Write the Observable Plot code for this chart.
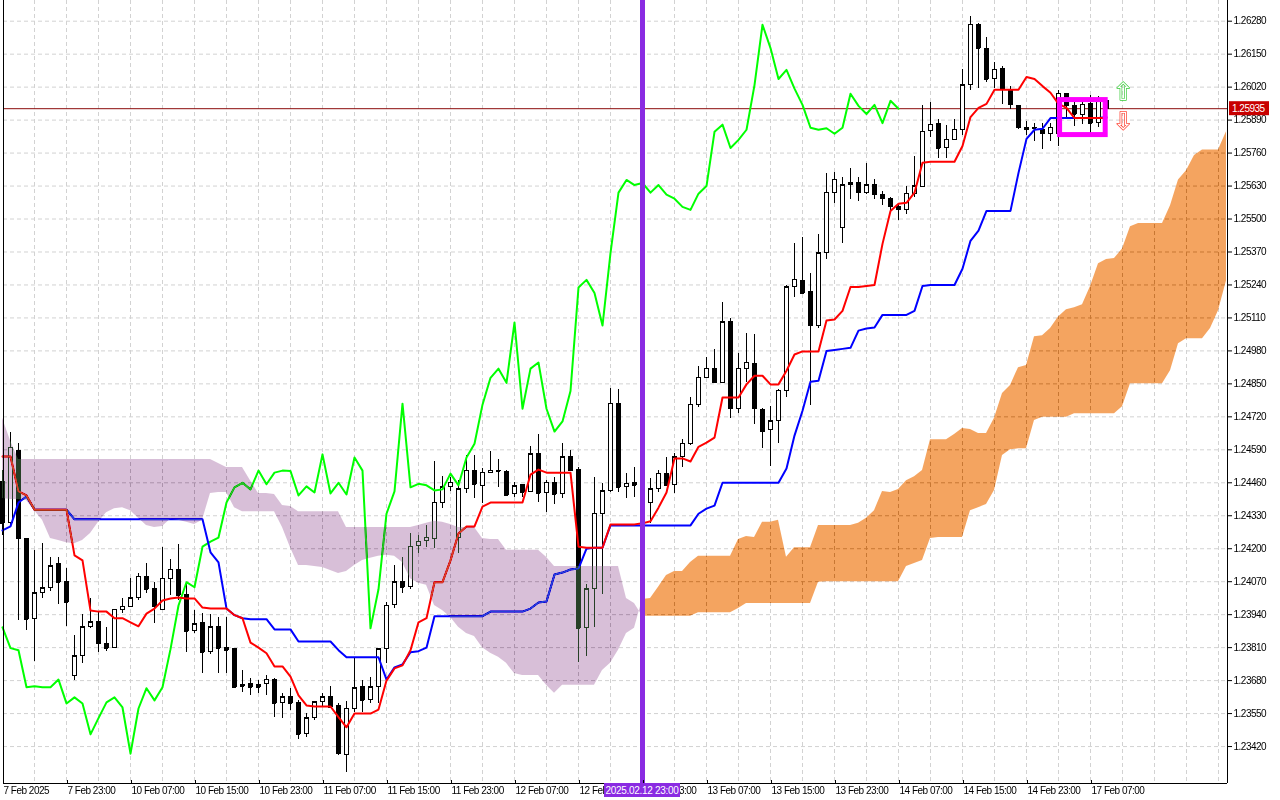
<!DOCTYPE html>
<html><head><meta charset="utf-8">
<script src="https://cdn.jsdelivr.net/npm/d3@7"></script>
<script src="https://cdn.jsdelivr.net/npm/@observablehq/plot@0.6"></script>
<style>
html,body{margin:0;padding:0;background:#fff;}
#chart{width:1280px;height:800px;overflow:hidden;}
svg [aria-label="x-axis tick label"]{letter-spacing:-0.5px;}
svg [aria-label="y-axis tick label"]{letter-spacing:-0.5px;}
</style></head><body><div id="chart"></div>
<script>
// ---- hourly candles (bar index 0 = 7 Feb 2025 15:00) ----
const open = [
1.24464,1.24300,1.24584,1.24240,1.23922,1.24024,1.24044,1.24138,1.24070,1.23700,
1.23776,1.23890,1.23910,1.23826,1.23808,1.23960,1.23972,1.24004,1.24090,1.24040,
1.23960,1.24082,1.24118,1.24016,1.23874,1.23906,1.23792,1.23890,1.23810,1.23804,
1.23662,1.23666,1.23662,1.23666,1.23684,1.23590,1.23614,1.23590,1.23468,1.23532,
1.23594,1.23614,1.23578,1.23388,1.23570,1.23654,1.23602,1.23654,1.23804,1.23980,
1.24070,1.24048,1.24212,1.24232,1.24240,1.24382,1.24442,1.24244,1.24436,1.24508,
1.24446,1.24500,1.24508,1.24504,1.24414,1.24450,1.24422,1.24572,1.24418,1.24460,
1.24414,1.24560,1.24512,1.23886,1.24040,1.24338,1.24426,1.24772,1.24442,1.24460,
1.24450,1.24382,1.24434,1.24496,1.24450,1.24560,1.24614,1.24768,1.24874,1.24910,
1.24854,1.25092,1.24752,1.24910,1.24930,1.24748,1.24670,1.24702,1.24822,1.25230,
1.25256,1.25212,1.25080,1.25366,1.25604,1.25466,1.25634,1.25642,1.25604,1.25634,
1.25596,1.25580,1.25548,1.25536,1.25600,1.25626,1.25848,1.25876,1.25780,1.25812,
1.25852,1.26028,1.26266,1.26170,1.26052,1.26092,1.26010,1.25946,1.25860,1.25860,
1.25852,1.25836,1.25836,1.25994,1.25946,1.25910,1.25954,1.25878,1.25966];
const high = [
1.24508,1.24658,1.24614,1.24240,1.24194,1.24220,1.24166,1.24166,1.24122,1.23858,
1.23940,1.24004,1.23948,1.23890,1.23960,1.24004,1.24082,1.24102,1.24142,1.24068,
1.24204,1.24158,1.24216,1.24064,1.23956,1.23944,1.23940,1.23930,1.23930,1.23808,
1.23720,1.23688,1.23680,1.23700,1.23688,1.23630,1.23650,1.23602,1.23550,1.23594,
1.23630,1.23658,1.23590,1.23598,1.23768,1.23680,1.23692,1.23808,1.23988,1.24134,
1.24166,1.24260,1.24252,1.24292,1.24544,1.24484,1.24480,1.24468,1.24568,1.24568,
1.24516,1.24584,1.24552,1.24508,1.24460,1.24454,1.24602,1.24650,1.24468,1.24480,
1.24614,1.24586,1.24520,1.24060,1.24480,1.24456,1.24832,1.24828,1.24496,1.24520,
1.24490,1.24476,1.24508,1.24560,1.24576,1.24630,1.24796,1.24918,1.24954,1.24984,
1.25170,1.25106,1.24970,1.25048,1.25044,1.24752,1.24760,1.24826,1.25238,1.25402,
1.25426,1.25284,1.25438,1.25678,1.25682,1.25662,1.25698,1.25662,1.25718,1.25654,
1.25608,1.25584,1.25560,1.25628,1.25748,1.25946,1.25958,1.25894,1.25868,1.25894,
1.26088,1.26300,1.26270,1.26214,1.26116,1.26100,1.26024,1.25946,1.25886,1.25876,
1.25876,1.25876,1.26006,1.25994,1.25962,1.25962,1.25986,1.25982,1.25974];
const low = [
1.24252,1.24292,1.23918,1.23878,1.23756,1.24004,1.24032,1.23980,1.23894,1.23680,
1.23748,1.23886,1.23792,1.23796,1.23808,1.23944,1.23968,1.23996,1.24024,1.23906,
1.23956,1.24016,1.23996,1.23792,1.23866,1.23708,1.23784,1.23708,1.23708,1.23650,
1.23634,1.23622,1.23630,1.23622,1.23536,1.23532,1.23562,1.23448,1.23456,1.23524,
1.23578,1.23574,1.23384,1.23316,1.23554,1.23554,1.23590,1.23590,1.23748,1.23964,
1.24024,1.24040,1.24182,1.24204,1.24200,1.24358,1.24426,1.24182,1.24418,1.24398,
1.24378,1.24496,1.24442,1.24406,1.24402,1.24402,1.24422,1.24382,1.24342,1.24374,
1.24398,1.24508,1.23752,1.23776,1.23890,1.24020,1.24422,1.24422,1.24398,1.24402,
1.24390,1.24300,1.24422,1.24450,1.24418,1.24520,1.24606,1.24756,1.24874,1.24854,
1.24854,1.24712,1.24732,1.24854,1.24690,1.24594,1.24524,1.24614,1.24798,1.25190,
1.25204,1.24764,1.25068,1.25342,1.25560,1.25402,1.25576,1.25568,1.25596,1.25576,
1.25552,1.25528,1.25494,1.25516,1.25584,1.25626,1.25820,1.25738,1.25738,1.25808,
1.25828,1.26006,1.26016,1.26040,1.26014,1.25950,1.25930,1.25852,1.25828,1.25804,
1.25776,1.25804,1.25784,1.25898,1.25866,1.25874,1.25836,1.25860,1.25918];
const close = [
1.24300,1.24598,1.24240,1.23922,1.24024,1.24044,1.24130,1.24068,1.23988,1.23776,
1.23890,1.23910,1.23826,1.23808,1.23960,1.23972,1.24004,1.24090,1.24040,1.23972,
1.24082,1.24118,1.24016,1.23874,1.23902,1.23792,1.23890,1.23808,1.23800,1.23654,
1.23658,1.23654,1.23654,1.23684,1.23590,1.23614,1.23590,1.23468,1.23532,1.23594,
1.23614,1.23574,1.23392,1.23570,1.23650,1.23602,1.23654,1.23804,1.23976,1.24068,
1.24048,1.24208,1.24228,1.24244,1.24382,1.24442,1.24460,1.24434,1.24508,1.24454,
1.24500,1.24508,1.24506,1.24410,1.24446,1.24422,1.24572,1.24418,1.24460,1.24414,
1.24560,1.24508,1.23886,1.24040,1.24338,1.24426,1.24772,1.24442,1.24456,1.24450,
1.24430,1.24434,1.24496,1.24450,1.24560,1.24614,1.24768,1.24874,1.24910,1.24854,
1.25092,1.24752,1.24910,1.24934,1.24752,1.24662,1.24702,1.24822,1.25230,1.25260,
1.25208,1.25080,1.25366,1.25604,1.25654,1.25634,1.25642,1.25604,1.25634,1.25596,
1.25580,1.25548,1.25536,1.25600,1.25630,1.25844,1.25872,1.25780,1.25812,1.25852,
1.26028,1.26266,1.26174,1.26052,1.26088,1.26014,1.25950,1.25860,1.25852,1.25858,
1.25836,1.25860,1.25994,1.25946,1.25914,1.25950,1.25878,1.25966,1.25935];

// ---- Ichimoku lines ----
const tenkan = [
1.24564,1.24564,1.24426,1.24410,1.24354,1.24354,1.24354,1.24354,1.24354,1.24174,
1.24154,1.23956,1.23952,1.23952,1.23926,1.23926,1.23910,1.23894,1.23944,1.23964,
1.23996,1.24004,1.24008,1.24004,1.24004,1.23968,1.23964,1.23964,1.23964,1.23938,
1.23926,1.23830,1.23810,1.23788,1.23736,1.23736,1.23696,1.23622,1.23582,1.23578,
1.23578,1.23578,1.23536,1.23496,1.23550,1.23550,1.23550,1.23566,1.23680,1.23728,
1.23740,1.23800,1.23910,1.23926,1.24068,1.24068,1.24154,1.24260,1.24288,1.24288,
1.24366,1.24382,1.24382,1.24382,1.24382,1.24382,1.24492,1.24512,1.24500,1.24500,
1.24500,1.24500,1.24208,1.24204,1.24204,1.24204,1.24296,1.24296,1.24296,1.24296,
1.24300,1.24308,1.24362,1.24422,1.24556,1.24556,1.24544,1.24602,1.24618,1.24638,
1.24796,1.24796,1.24796,1.24848,1.24882,1.24882,1.24848,1.24848,1.24902,1.24966,
1.24978,1.24978,1.24978,1.25100,1.25104,1.25138,1.25232,1.25232,1.25236,1.25240,
1.25402,1.25532,1.25560,1.25564,1.25604,1.25722,1.25726,1.25726,1.25726,1.25726,
1.25788,1.25902,1.25938,1.25954,1.26010,1.26010,1.26010,1.26010,1.26060,1.26052,
1.26024,1.25998,1.25954,1.25938,1.25898,1.25898,1.25898,1.25898,1.25898];
const kijun = [
1.24272,1.24288,1.24382,1.24406,1.24354,1.24354,1.24354,1.24354,1.24354,1.24316,
1.24316,1.24316,1.24316,1.24316,1.24316,1.24316,1.24316,1.24316,1.24316,1.24316,
1.24316,1.24316,1.24316,1.24316,1.24316,1.24316,1.24186,1.24146,1.23964,1.23938,
1.23926,1.23922,1.23922,1.23922,1.23882,1.23882,1.23882,1.23834,1.23834,1.23834,
1.23834,1.23834,1.23800,1.23772,1.23772,1.23772,1.23772,1.23772,1.23684,1.23732,
1.23744,1.23792,1.23796,1.23810,1.23934,1.23934,1.23934,1.23934,1.23934,1.23934,
1.23934,1.23952,1.23952,1.23952,1.23952,1.23952,1.23964,1.23988,1.23992,1.24098,
1.24106,1.24118,1.24122,1.24200,1.24204,1.24204,1.24292,1.24292,1.24292,1.24292,
1.24292,1.24292,1.24292,1.24292,1.24292,1.24292,1.24292,1.24338,1.24358,1.24370,
1.24460,1.24460,1.24460,1.24460,1.24460,1.24460,1.24460,1.24460,1.24516,1.24646,
1.24744,1.24858,1.24862,1.24980,1.24984,1.24988,1.24992,1.25060,1.25068,1.25072,
1.25122,1.25122,1.25122,1.25122,1.25138,1.25236,1.25240,1.25240,1.25240,1.25240,
1.25304,1.25414,1.25454,1.25532,1.25532,1.25532,1.25532,1.25682,1.25816,1.25852,
1.25856,1.25898,1.25898,1.25898,1.25898,1.25898,1.25898,1.25898,1.25902];
// Senkou spans, already plotted 26 bars ahead (index = bar position on chart)
const spanA = [
1.24398,1.24394,1.24394,1.24390,1.24350,1.24312,1.24240,1.24232,1.24224,1.24220,
1.24232,1.24260,1.24304,1.24342,1.24358,1.24362,1.24350,1.24320,1.24292,1.24284,
1.24288,1.24316,1.24312,1.24304,1.24296,1.24312,1.24418,1.24422,1.24422,1.24362,
1.24346,1.24346,1.24346,1.24346,1.24346,1.24284,1.24204,1.24134,1.24134,1.24130,
1.24126,1.24114,1.24102,1.24110,1.24134,1.24154,1.24162,1.24170,1.24174,1.24170,
1.24146,1.24082,1.24064,1.24056,1.23976,1.23956,1.23930,1.23890,1.23866,1.23854,
1.23810,1.23788,1.23772,1.23748,1.23708,1.23700,1.23700,1.23700,1.23662,1.23630,
1.23662,1.23662,1.23662,1.23662,1.23662,1.23720,1.23748,1.23800,1.23866,1.23886,
1.24000,1.24004,1.24048,1.24094,1.24110,1.24110,1.24146,1.24170,1.24170,1.24170,
1.24170,1.24170,1.24236,1.24248,1.24244,1.24304,1.24304,1.24312,1.24166,1.24204,
1.24204,1.24204,1.24292,1.24292,1.24292,1.24292,1.24292,1.24300,1.24320,1.24350,
1.24426,1.24422,1.24434,1.24468,1.24484,1.24508,1.24630,1.24630,1.24630,1.24650,
1.24674,1.24670,1.24654,1.24654,1.24714,1.24812,1.24844,1.24914,1.24922,1.25036,
1.25040,1.25068,1.25114,1.25142,1.25150,1.25162,1.25234,1.25324,1.25340,1.25344,
1.25382,1.25470,1.25482,1.25482,1.25482,1.25482,1.25552,1.25654,1.25690,1.25750,
1.25772,1.25772,1.25772,1.25844];
const spanB = [
1.24714,1.24626,1.24552,1.24552,1.24552,1.24552,1.24552,1.24552,1.24552,1.24552,
1.24552,1.24552,1.24552,1.24552,1.24552,1.24552,1.24552,1.24552,1.24552,1.24552,
1.24552,1.24552,1.24552,1.24552,1.24552,1.24552,1.24552,1.24536,1.24520,1.24520,
1.24520,1.24468,1.24418,1.24418,1.24414,1.24370,1.24366,1.24346,1.24346,1.24346,
1.24346,1.24346,1.24346,1.24284,1.24284,1.24284,1.24284,1.24284,1.24284,1.24284,
1.24284,1.24284,1.24292,1.24300,1.24308,1.24304,1.24296,1.24284,1.24284,1.24284,
1.24240,1.24236,1.24236,1.24194,1.24194,1.24194,1.24194,1.24194,1.24166,1.24130,
1.24130,1.24130,1.24130,1.24130,1.24130,1.24130,1.24130,1.24130,1.24004,1.23984,
1.23934,1.23934,1.23934,1.23934,1.23934,1.23934,1.23934,1.23948,1.23948,1.23948,
1.23948,1.23948,1.23964,1.23984,1.23984,1.23984,1.23984,1.23984,1.23984,1.23984,
1.23984,1.23984,1.24068,1.24070,1.24070,1.24070,1.24070,1.24070,1.24070,1.24070,
1.24070,1.24070,1.24070,1.24130,1.24142,1.24154,1.24240,1.24244,1.24244,1.24244,
1.24244,1.24350,1.24362,1.24374,1.24430,1.24568,1.24590,1.24594,1.24594,1.24706,
1.24718,1.24718,1.24718,1.24718,1.24732,1.24732,1.24732,1.24732,1.24732,1.24732,
1.24760,1.24850,1.24850,1.24850,1.24850,1.24850,1.24902,1.25008,1.25028,1.25028,
1.25028,1.25068,1.25138,1.25256];
const chikouShift = 26;
const cloudSwitchBar = 80;

// ---- axes ----
const timeLabels = ["7 Feb 2025","7 Feb 23:00","10 Feb 07:00","10 Feb 15:00","10 Feb 23:00",
"11 Feb 07:00","11 Feb 15:00","11 Feb 23:00","12 Feb 07:00","12 Feb 15:00","12 Feb 23:00",
"13 Feb 07:00","13 Feb 15:00","13 Feb 23:00","14 Feb 07:00","14 Feb 15:00","14 Feb 23:00","17 Feb 07:00"];
const timeTickBars = [0,8,16,24,32,40,48,56,64,72,80,88,96,104,112,120,128,136];
const priceTicks = [1.23420,1.23550,1.23680,1.23810,1.23940,1.24070,1.24200,1.24330,1.24460,
1.24590,1.24720,1.24850,1.24980,1.25110,1.25240,1.25370,1.25500,1.25630,1.25760,1.25890,
1.26020,1.26150,1.26280];
const xDomain = [0.125, 153.125];
const yDomain = [1.232743, 1.263616];

// ---- annotations ----
const lastPrice = 1.25935;
const markerBar = 80;
const markerLabel = "2025.02.12 23:00";
const boxBars = [132.2, 137.9];
const boxPrices = [1.25831, 1.25969];
const arrowBar = 140.1;
const arrowUpPrice = 1.26001;
const arrowDownPrice = 1.25886;

// ---- build tables ----
const bars = open.map((o, i) => ({i, o, h: high[i], l: low[i], c: close[i], up: close[i] >= o}));
const tenkanRows = tenkan.map((v, i) => ({i, v}));
const kijunRows = kijun.map((v, i) => ({i, v}));
const chikouRows = close.slice(chikouShift).map((v, i) => ({i, v}));
const cloud = spanA.map((a, j) => ({j, a, b: spanB[j]}));
const gridBars = d3.range(4, 153, 4);

const W = 1280, H = 800, mB = 17;
const font = "'Liberation Sans', Arial, sans-serif";

const chart = Plot.plot({
  width: W, height: H,
  marginLeft: 3, marginRight: 53, marginTop: 0, marginBottom: mB,
  x: {domain: xDomain, axis: null},
  y: {domain: yDomain, axis: null},
  style: {fontFamily: font, fontSize: "10px", background: "white", isolation: "isolate", overflow: "visible"},
  marks: [
    Plot.frame({fill: "white", stroke: null}),
    Plot.gridY(priceTicks, {stroke: "#d2d2d2", strokeOpacity: 1, strokeDasharray: "4,3"}),
    Plot.gridX(gridBars, {stroke: "#d2d2d2", strokeOpacity: 1, strokeDasharray: "4,3"}),
    Plot.ruleY([lastPrice], {stroke: "#8c0c0c", strokeWidth: 1}),
    // candles
    Plot.ruleX(bars, {x: "i", y1: "l", y2: "h", stroke: "black", strokeWidth: 1, shapeRendering: "crispEdges"}),
    Plot.rect(bars, {x1: d => d.i - 0.25, x2: d => d.i + 0.25, y1: "o", y2: "c",
      fill: d => d.up ? "white" : "black", stroke: "black", strokeWidth: 1, shapeRendering: "crispEdges"}),
    Plot.ruleY(bars, {y: "c", x1: d => d.i - 0.25, x2: d => d.i + 0.25, stroke: "black", shapeRendering: "crispEdges"}),
    // lines
    Plot.line(chikouRows, {x: "i", y: "v", stroke: "#00ff00", strokeWidth: 2}),
    Plot.line(kijunRows, {x: "i", y: "v", stroke: "#0000ff", strokeWidth: 2}),
    Plot.line(tenkanRows, {x: "i", y: "v", stroke: "#ff0000", strokeWidth: 2}),
    // cloud (inverted colours with difference blend, like an XOR fill)
    Plot.areaY(cloud.filter(d => d.j <= cloudSwitchBar), {x: "j", y1: "a", y2: "b", fill: "rgb(39,64,39)", mixBlendMode: "difference"}),
    Plot.areaY(cloud.filter(d => d.j >= cloudSwitchBar), {x: "j", y1: "a", y2: "b", fill: "rgb(11,91,159)", mixBlendMode: "difference"}),
    // vertical marker
    Plot.ruleX([markerBar], {stroke: "#8a2be2", strokeWidth: 5}),
    // highlight box
    Plot.rect([0], {x1: boxBars[0], x2: boxBars[1], y1: boxPrices[0], y2: boxPrices[1], fill: "none", stroke: "#ff00ff", strokeWidth: 5}),
    Plot.text(["\u21e7"], {x: arrowBar, y: arrowUpPrice, fill: "white", stroke: "#3ccc3c", strokeWidth: 1.4, fontSize: 24, fontFamily: "DejaVu Sans"}),
    Plot.text(["\u21e9"], {x: arrowBar, y: arrowDownPrice, fill: "white", stroke: "#ff3a2a", strokeWidth: 1.4, fontSize: 24, fontFamily: "DejaVu Sans"}),
    // frame lines
    Plot.ruleX(xDomain, {stroke: "black", strokeWidth: 1}),
    Plot.ruleY([yDomain[0]], {stroke: "black", strokeWidth: 1}),
    // axes
    Plot.axisY(priceTicks, {anchor: "right", tickSize: 4, tickPadding: 2, tickFormat: d3.format(".5f"), fontSize: 10, label: null}),
    Plot.axisX(timeTickBars, {anchor: "bottom", tickSize: 4, tickPadding: 2, textAnchor: "start", dx: 1, dy: -3,
      tickFormat: (d) => timeLabels[timeTickBars.indexOf(d)], fontSize: 10, label: null})
  ]
});
document.getElementById("chart").appendChild(chart);

// tags positioned with the plot's own scales
const sx = chart.scale("x"), sy = chart.scale("y");
const svg = d3.select(chart);
const axisRight = sx.apply(xDomain[1]);
const py = sy.apply(lastPrice);
const tag = svg.append("g");
tag.append("rect").attr("x", axisRight + 2).attr("y", py - 7).attr("width", 40).attr("height", 14).attr("fill", "#c80000");
tag.append("text").attr("x", axisRight + 5).attr("y", py).attr("dy", "0.35em").attr("text-anchor", "start").attr("fill", "white")
  .style("font-family", font).style("font-size", "10px").style("letter-spacing", "-0.5px")
  .text(d3.format(".5f")(lastPrice));
const mx = sx.apply(markerBar);
const bottom = H - mB;
tag.append("rect").attr("x", mx - 38).attr("y", bottom).attr("width", 76).attr("height", 14).attr("fill", "#8a2be2");
tag.append("text").attr("x", mx).attr("y", bottom + 7).attr("dy", "0.35em").attr("text-anchor", "middle").attr("fill", "white")
  .style("font-family", font).style("font-size", "10px").style("letter-spacing", "-0.3px")
  .text(markerLabel);
</script></body></html>
